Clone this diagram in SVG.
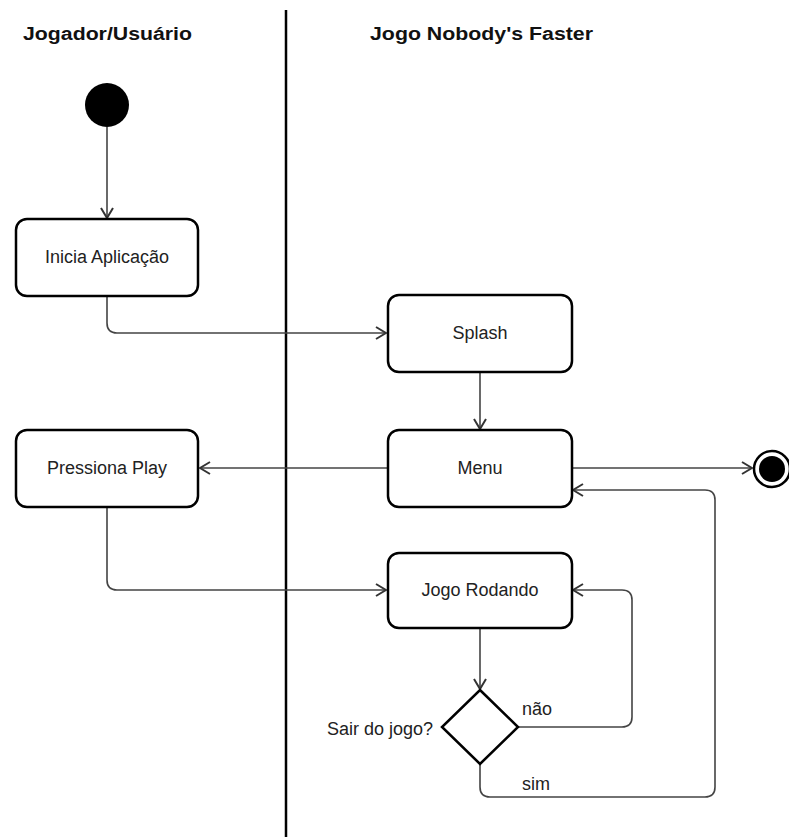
<svg xmlns="http://www.w3.org/2000/svg" width="789" height="837" viewBox="0 0 789 837">
<style>
.hdr{font-family:"Liberation Sans",Arial,sans-serif;font-weight:bold;font-size:18px;fill:#111}
.lbl{font-family:"Liberation Sans",Arial,sans-serif;font-size:18px;fill:#222}
.box{fill:#fff;stroke:#000;stroke-width:2.5}
.con{fill:none;stroke:#444;stroke-width:1.6}
</style>
<defs>
<marker id="arr" viewBox="0 0 12 14" refX="11" refY="7" markerWidth="12" markerHeight="14" markerUnits="userSpaceOnUse" orient="auto">
<path d="M1,1 L11,7 L1,13" fill="none" stroke="#333" stroke-width="2"/>
</marker>
</defs>
<rect width="789" height="837" fill="#fff"/>
<line x1="286" y1="10" x2="286" y2="837" stroke="#000" stroke-width="2.5"/>
<text class="hdr" x="23" y="40" textLength="169" lengthAdjust="spacingAndGlyphs">Jogador/Usuário</text>
<text class="hdr" x="370" y="40" textLength="223" lengthAdjust="spacingAndGlyphs">Jogo Nobody's Faster</text>
<g id="connectors">
<path class="con" d="M107,127 V218" marker-end="url(#arr)"/>
<path class="con" d="M107,296 V323 Q107,333 117,333 H386" marker-end="url(#arr)"/>
<path class="con" d="M480,372 V429" marker-end="url(#arr)"/>
<path class="con" d="M387,468 H200" marker-end="url(#arr)"/>
<path class="con" d="M107,507 V580 Q107,590 117,590 H386" marker-end="url(#arr)"/>
<path class="con" d="M572,468 H752" marker-end="url(#arr)"/>
<path class="con" d="M480,628 V689" marker-end="url(#arr)"/>
<path class="con" d="M518,727 H622 Q632,727 632,717 V600 Q632,590 622,590 H573" marker-end="url(#arr)"/>
<path class="con" d="M480,764 V787 Q480,797 490,797 H705 Q715,797 715,787 V500 Q715,490 705,490 H573" marker-end="url(#arr)"/>
<text class="lbl" x="522" y="715">não</text>
<text class="lbl" x="522" y="790">sim</text>
</g>
<g id="start"><circle cx="107" cy="105" r="22" fill="#000"/></g>
<g id="inicia"><rect class="box" x="16" y="219" width="182" height="77" rx="11"/><text class="lbl" x="107" y="263" text-anchor="middle">Inicia Aplicação</text></g>
<g id="splash"><rect class="box" x="388" y="295" width="184" height="77" rx="11"/><text class="lbl" x="480" y="339" text-anchor="middle">Splash</text></g>
<g id="menu"><rect class="box" x="388" y="430" width="184" height="77" rx="11"/><text class="lbl" x="480" y="474" text-anchor="middle">Menu</text></g>
<g id="pressiona"><rect class="box" x="16" y="430" width="182" height="77" rx="11"/><text class="lbl" x="107" y="474" text-anchor="middle">Pressiona Play</text></g>
<g id="jogo"><rect class="box" x="388" y="553" width="184" height="75" rx="11"/><text class="lbl" x="480" y="596" text-anchor="middle">Jogo Rodando</text></g>
<g id="decisao"><path d="M480,690 L518,727 L480,764 L442,727 Z" fill="#fff" stroke="#000" stroke-width="2.5"/><text class="lbl" x="433" y="735" text-anchor="end">Sair do jogo?</text></g>
<g id="end"><circle cx="772" cy="469" r="18" fill="#fff" stroke="#000" stroke-width="2.5"/><circle cx="772" cy="469" r="13" fill="#000"/></g>
</svg>
